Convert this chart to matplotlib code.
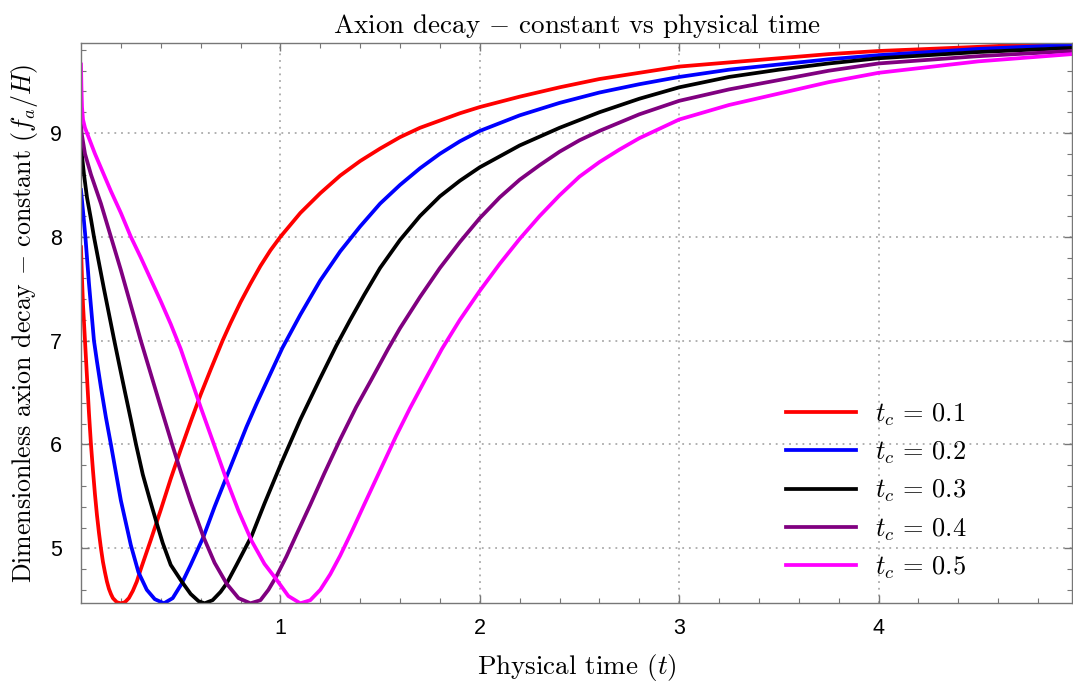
import numpy as np
import matplotlib
matplotlib.use('Agg')
import matplotlib.pyplot as plt

plt.rcParams['mathtext.fontset'] = 'cm'
plt.rcParams['axes.unicode_minus'] = False

# values (t, f_a/H)
x_01 = [0, 0.005, 0.01, 0.02, 0.03, 0.04, 0.05, 0.06, 0.07, 0.08, 0.09, 0.1, 0.11, 0.12, 0.13, 0.14,
        0.15, 0.16, 0.18, 0.2, 0.22, 0.24, 0.26, 0.28, 0.3, 0.35, 0.4, 0.45, 0.5, 0.55, 0.6, 0.65, 0.71,
        0.75, 0.8, 0.85, 0.9, 0.95, 1.0, 1.1, 1.2, 1.3, 1.4, 1.5, 1.6, 1.7, 1.8, 1.9, 2.0, 2.2, 2.4, 2.6,
        2.8, 3.0, 3.25, 3.5, 3.75, 4.0, 4.5, 4.97]
y_01 = [7.9, 7.6, 7.35, 7.0, 6.65, 6.3, 6.0, 5.75, 5.52, 5.32, 5.15, 5.0, 4.87, 4.77, 4.68, 4.61,
        4.56, 4.52, 4.48, 4.47, 4.48, 4.52, 4.59, 4.68, 4.8, 5.08, 5.37, 5.67, 5.95, 6.22, 6.48, 6.72, 7.0,
        7.17, 7.37, 7.55, 7.72, 7.87, 8.0, 8.23, 8.42, 8.59, 8.73, 8.85, 8.96, 9.05, 9.12, 9.19, 9.25, 9.35, 9.44, 9.52,
        9.58, 9.64, 9.68, 9.72, 9.76, 9.79, 9.83, 9.87]

x_02 = [0, 0.005, 0.01, 0.022, 0.04, 0.065, 0.08, 0.1, 0.125, 0.15, 0.2, 0.25, 0.288, 0.33, 0.37,
        0.416, 0.46, 0.505, 0.55, 0.614, 0.67, 0.726, 0.78, 0.83, 0.88, 0.935, 1.01, 1.1, 1.2, 1.3, 1.4,
        1.5, 1.6, 1.7, 1.8, 1.9, 2.0, 2.2, 2.4, 2.6, 2.8, 3.0, 3.25, 3.5, 3.75, 4.0, 4.5, 4.97]
y_02 = [8.45, 8.35, 8.25, 8.0, 7.55, 7.0, 6.8, 6.55, 6.26, 6.0, 5.46, 5.03, 4.77, 4.6, 4.51,
        4.47, 4.52, 4.66, 4.84, 5.11, 5.4, 5.67, 5.93, 6.17, 6.39, 6.62, 6.93, 7.25, 7.58, 7.86, 8.1,
        8.32, 8.5, 8.66, 8.8, 8.92, 9.02, 9.17, 9.29, 9.39, 9.47, 9.54, 9.61, 9.66, 9.71, 9.75, 9.81, 9.85]

x_03 = [0, 0.005, 0.015, 0.03, 0.05, 0.065, 0.09, 0.115, 0.14, 0.167, 0.195, 0.22, 0.25, 0.276, 0.31,
        0.345, 0.38, 0.41, 0.45, 0.505, 0.55, 0.59, 0.62, 0.66, 0.7, 0.73, 0.78, 0.856, 0.92, 1.0, 1.05,
        1.1, 1.15, 1.195, 1.28, 1.35, 1.42, 1.5, 1.6, 1.7, 1.8, 1.9, 2.0, 2.2, 2.4, 2.6, 2.8, 3.0, 3.25,
        3.5, 3.75, 4.0, 4.5, 4.97]
y_03 = [8.9, 8.78, 8.6, 8.38, 8.17, 8.0, 7.75, 7.5, 7.26, 7.0, 6.74, 6.51, 6.24, 6.0, 5.71,
        5.47, 5.24, 5.05, 4.84, 4.68, 4.56, 4.49, 4.47, 4.5, 4.58, 4.66, 4.84, 5.12, 5.43, 5.8, 6.02,
        6.24, 6.44, 6.62, 6.95, 7.2, 7.44, 7.7, 7.97, 8.2, 8.39, 8.54, 8.67, 8.88, 9.05, 9.2, 9.33, 9.44, 9.54,
        9.61, 9.67, 9.72, 9.78, 9.82]

x_04 = [0, 0.003, 0.02, 0.05, 0.1, 0.15, 0.2, 0.25, 0.3, 0.35, 0.4, 0.457, 0.5, 0.55, 0.614, 0.67,
        0.73, 0.79, 0.85, 0.9, 0.94, 0.98, 1.03, 1.08, 1.15, 1.22, 1.3, 1.38, 1.455, 1.54, 1.6, 1.7,
        1.8, 1.9, 2.0, 2.1, 2.2, 2.3, 2.4, 2.5, 2.6, 2.8, 3.0, 3.25, 3.5, 3.75, 4.0, 4.5, 4.97]
y_04 = [9.1, 9.0, 8.8, 8.6, 8.32, 8.0, 7.68, 7.34, 7.0, 6.68, 6.36, 6.0, 5.74, 5.45, 5.11, 4.86,
        4.66, 4.52, 4.47, 4.5, 4.6, 4.73, 4.92, 5.13, 5.42, 5.72, 6.05, 6.36, 6.62, 6.92, 7.12, 7.42,
        7.7, 7.95, 8.18, 8.38, 8.55, 8.69, 8.82, 8.93, 9.02, 9.18, 9.31, 9.42, 9.51, 9.6, 9.67, 9.74, 9.79]

x_05 = [0, 0.002, 0.005, 0.01, 0.02, 0.03, 0.07, 0.11, 0.15, 0.2, 0.25, 0.3, 0.35, 0.4, 0.45, 0.5,
        0.55, 0.6, 0.667, 0.726, 0.79, 0.856, 0.92, 0.98, 1.04, 1.1, 1.15, 1.2, 1.25, 1.3, 1.36, 1.42,
        1.5, 1.58, 1.65, 1.725, 1.81, 1.9, 2.0, 2.1, 2.2, 2.3, 2.4, 2.5, 2.6, 2.7, 2.8, 3.0, 3.25, 3.5,
        3.75, 4.0, 4.5, 4.97]
y_05 = [9.66, 9.45, 9.25, 9.13, 9.05, 9.0, 8.8, 8.62, 8.44, 8.23, 8.0, 7.8, 7.59, 7.38, 7.16, 6.92,
        6.64, 6.36, 6.0, 5.68, 5.36, 5.07, 4.85, 4.7, 4.54, 4.47, 4.5, 4.6, 4.75, 4.93, 5.17, 5.42,
        5.75, 6.08, 6.35, 6.62, 6.92, 7.2, 7.48, 7.74, 7.98, 8.2, 8.4, 8.58, 8.72, 8.84, 8.95, 9.13, 9.27, 9.38,
        9.49, 9.58, 9.69, 9.76]

series = [(x_01, y_01, '#ff0000', '0.1'), (x_02, y_02, '#0000ff', '0.2'), (x_03, y_03, '#000000', '0.3'),
          (x_04, y_04, '#800080', '0.4'), (x_05, y_05, '#ff00ff', '0.5')]

fig = plt.figure(figsize=(10.73, 6.81), dpi=100)
ax = fig.add_axes([81/1073, 1-603/681, 991/1073, 560/681])

for xs, ys, c, lab in series:
    ax.plot(xs, ys, color=c, lw=2.7, label=r'$t_c\,=\,%s$' % lab, solid_joinstyle='round')

ax.set_xlim(0, 4.97)
ax.set_ylim(4.473, 9.867)
ax.set_xticks([1, 2, 3, 4])
ax.set_yticks([5, 6, 7, 8, 9])
ax.set_xticks(np.arange(0.2, 4.97, 0.2), minor=True)
ax.set_yticks(np.arange(4.6, 9.867, 0.2), minor=True)
ax.grid(True, which='major', color='#aaaaaa', lw=1.3, linestyle=(0, (1, 2.7)))

for s in ax.spines.values():
    s.set_color('#777777')
    s.set_linewidth(1.0)
ax.tick_params(which='both', direction='in', top=True, right=True, color='#777777')
ax.tick_params(which='major', length=6, width=1.0)
ax.tick_params(which='minor', length=3.5, width=0.8)
for lab in ax.get_xticklabels() + ax.get_yticklabels():
    lab.set_family('Liberation Sans')
    lab.set_fontsize(15.5)
ax.tick_params(axis='x', pad=11)
ax.tick_params(axis='y', pad=14)

ax.set_title(r'Axion decay $-$ constant vs physical time', family='cmr10', fontsize=19.5, pad=7)
ax.set_xlabel(r'Physical time $(t)$', family='cmr10', fontsize=19.5, labelpad=9)
ax.set_ylabel(r'Dimensionless axion decay $-$ constant $(f_a/H)$', family='cmr10', fontsize=18.6, labelpad=7)

leg = ax.legend(loc='center left', bbox_to_anchor=(0.711, 0.2), frameon=False, fontsize=19,
                handlelength=2.65, handletextpad=0.72, labelspacing=0.45, borderpad=0, borderaxespad=0)

fig.savefig('out.png', dpi=100)
